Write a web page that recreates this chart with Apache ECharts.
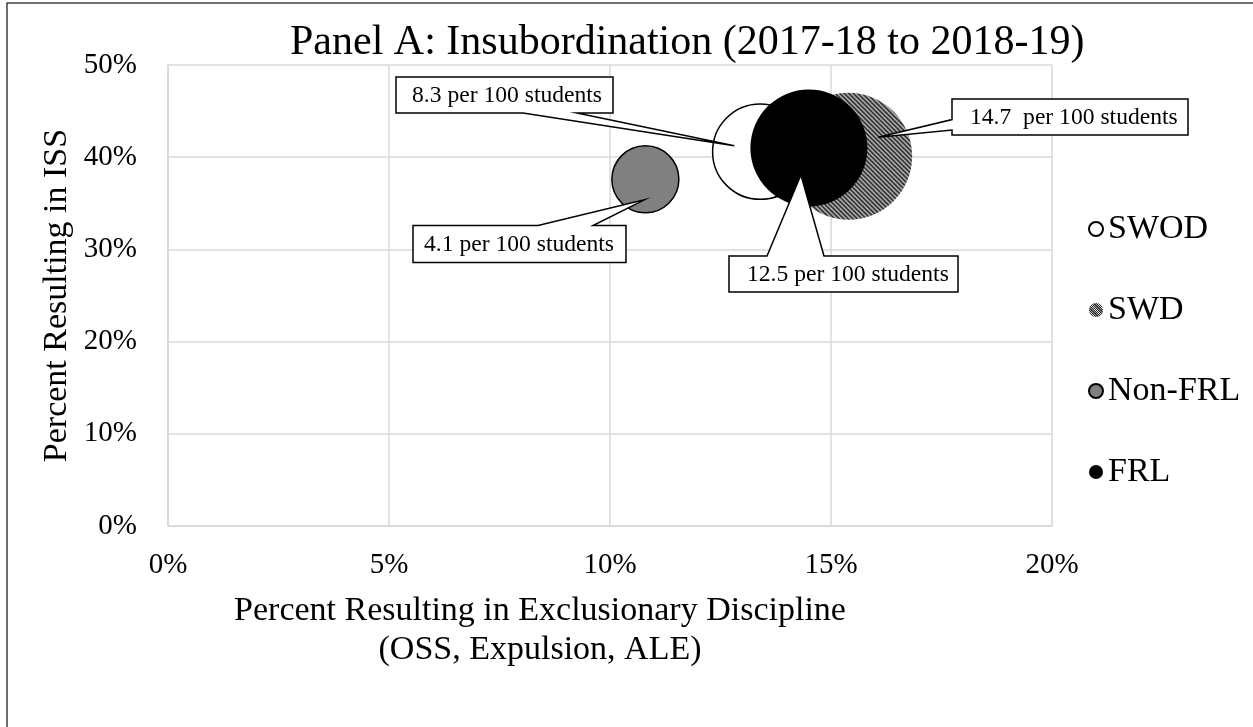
<!DOCTYPE html>
<html><head><meta charset="utf-8">
<script src="https://cdn.jsdelivr.net/npm/echarts@6/dist/echarts.min.js"></script>
<style>html,body{margin:0;padding:0;background:#fff}#c{width:1253px;height:727px}</style>
</head><body><div id="c"></div>
<script>
// ---- data ----
const seriesNames = ['SWOD', 'SWD', 'Non-FRL', 'FRL'];
const xExclusionaryPct = [13.4, 15.4, 10.8, 14.5];
const yIssPct = [40.6, 40.1, 37.6, 41.0];
const ratePer100 = [8.3, 14.7, 4.1, 12.5];
const calloutText = ['8.3 per 100 students', '14.7  per 100 students', '4.1 per 100 students', '12.5 per 100 students'];
const xTickLabels = ['0%', '5%', '10%', '15%', '20%'];
const yTickLabels = ['0%', '10%', '20%', '30%', '40%', '50%'];
const titleText = 'Panel A: Insubordination (2017-18 to 2018-19)';
const xTitle = 'Percent Resulting in Exclusionary Discipline\n(OSS, Expulsion, ALE)';
const yTitle = 'Percent Resulting in ISS';

const FONT = '"Liberation Serif", "Times New Roman", serif';
const LEGEND_ICON = 14;
const bubbleSize = (rate) => 33.1 * Math.sqrt(rate);

function hatchCanvas() {
  const s = 9;
  const c = document.createElement('canvas');
  c.width = s; c.height = s;
  const g = c.getContext('2d');
  g.fillStyle = '#fff'; g.fillRect(0, 0, s, s);
  g.strokeStyle = '#262626'; g.lineWidth = 2.1;
  for (let k = -2; k <= 2; k++) {
    const o = k * s / 2;
    g.beginPath(); g.moveTo(o - 2, -2); g.lineTo(o + s + 2, s + 2); g.stroke();
  }
  return c;
}
// symbols are drawn from a unit path scaled by size/2, so undo that scale on the pattern
function hatchPattern(symbolSize) {
  const k = 2 / symbolSize;
  return { image: hatchCanvas(), repeat: 'repeat', scaleX: k, scaleY: k };
}

const styles = [
  { color: '#ffffff', borderColor: '#000', borderWidth: 1.5, opacity: 1 },
  { color: hatchPattern(bubbleSize(ratePer100[1])), borderWidth: 0, opacity: 1 },
  { color: '#808080', borderColor: '#000', borderWidth: 1.5, opacity: 1 },
  { color: '#000000', borderColor: '#000', borderWidth: 0, opacity: 1 }
];

const chart = echarts.init(document.getElementById('c'), null, { renderer: 'canvas' });
const option = {
  animation: false,
  backgroundColor: '#fff',
  grid: { left: 168, top: 65, width: 884, height: 461, containLabel: false },
  xAxis: {
    type: 'value', min: 0, max: 20, interval: 5,
    axisLine: { show: true, lineStyle: { color: '#d9d9d9', width: 1.5 } },
    axisTick: { show: false },
    splitLine: { show: true, lineStyle: { color: '#d9d9d9', width: 1.5 } },
    axisLabel: { margin: 25, fontSize: 29, fontFamily: FONT, color: '#000',
      formatter: (v) => xTickLabels[Math.round(v / 5)] }
  },
  yAxis: {
    type: 'value', min: 0, max: 50, interval: 10,
    axisLine: { show: true, lineStyle: { color: '#d9d9d9', width: 1.5 } },
    axisTick: { show: false },
    splitLine: { show: true, lineStyle: { color: '#d9d9d9', width: 1.5 } },
    axisLabel: { margin: 31, fontSize: 29, fontFamily: FONT, color: '#000',
      formatter: (v) => yTickLabels[Math.round(v / 10)] }
  },
  legend: {
    data: seriesNames.map((n, i) => i === 1
      ? { name: n, itemStyle: { color: hatchPattern(LEGEND_ICON), borderWidth: 0, opacity: 1 } }
      : { name: n }),
    orient: 'vertical', left: 1083, top: 207,
    itemWidth: LEGEND_ICON, itemHeight: LEGEND_ICON, itemGap: 47, selectedMode: false,
    itemStyle: { opacity: 1 },
    textStyle: { fontSize: 34, fontFamily: FONT, color: '#000', lineHeight: 34 }
  },
  series: seriesNames.map((n, i) => ({
    type: 'scatter', name: n,
    data: [[xExclusionaryPct[i], yIssPct[i], ratePer100[i]]],
    symbol: 'circle',
    symbolSize: (v) => bubbleSize(v[2]),
    itemStyle: styles[i],
    emphasis: { disabled: true },
    silent: true
  }))
};
chart.setOption(option);

// callout layout (pixel boxes) and pointer aim offsets from bubble centres
const calloutLayout = [
  { box: [396, 77, 613, 113], side: 'bottom', base: [523, 577], aim: [-26, -6], textX: 412 },
  { box: [952, 99, 1188, 135], side: 'left', base: [119.6, 130], aim: [29.5, -19], textX: 970 },
  { box: [413, 225.5, 626, 262.5], side: 'top', base: [538, 593], aim: [-1, 20.5], textX: 424 },
  { box: [729, 256, 958, 292], side: 'top', base: [767, 824], aim: [-8, 27], textX: 747 }
];

const els = [];
els.push({ type: 'rect', silent: true, shape: { x: 7, y: 3, width: 1400, height: 900 },
  style: { fill: 'none', stroke: '#404040', lineWidth: 1.5 } });
els.push({ type: 'text', silent: true, x: 290, y: 43,
  style: { text: titleText, fontSize: 42, fontFamily: FONT, fill: '#000', align: 'left', verticalAlign: 'middle' } });
els.push({ type: 'text', silent: true, x: 57, y: 295.5, rotation: Math.PI / 2,
  style: { text: yTitle, fontSize: 34, fontFamily: FONT, fill: '#000', align: 'center', verticalAlign: 'middle' } });
els.push({ type: 'text', silent: true, x: 540, y: 631,
  style: { text: xTitle, fontSize: 34, lineHeight: 39, fontFamily: FONT, fill: '#000', align: 'center', verticalAlign: 'middle' } });

calloutLayout.forEach((L, i) => {
  const c = chart.convertToPixel({ gridIndex: 0 }, [xExclusionaryPct[i], yIssPct[i]]);
  const tip = [c[0] + L.aim[0], c[1] + L.aim[1]];
  const [x0, y0, x1, y1] = L.box;
  let pts;
  if (L.side === 'bottom') {
    pts = [[x0, y0], [x1, y0], [x1, y1], [L.base[1], y1], tip, [L.base[0], y1], [x0, y1]];
  } else if (L.side === 'top') {
    pts = [[x0, y0], [L.base[0], y0], tip, [L.base[1], y0], [x1, y0], [x1, y1], [x0, y1]];
  } else {
    pts = [[x0, y0], [x1, y0], [x1, y1], [x0, y1], [x0, L.base[1]], tip, [x0, L.base[0]]];
  }
  els.push({ type: 'polygon', silent: true, z: 100, shape: { points: pts },
    style: { fill: '#fff', stroke: '#000', lineWidth: 1.5 } });
  els.push({ type: 'text', silent: true, z: 101, x: L.textX, y: (y0 + y1) / 2 + 1,
    style: { text: calloutText[i], fontSize: 23.6, fontFamily: FONT, fill: '#000', align: 'left', verticalAlign: 'middle' } });
});
chart.setOption({ graphic: { elements: els } });
</script>
</body></html>
